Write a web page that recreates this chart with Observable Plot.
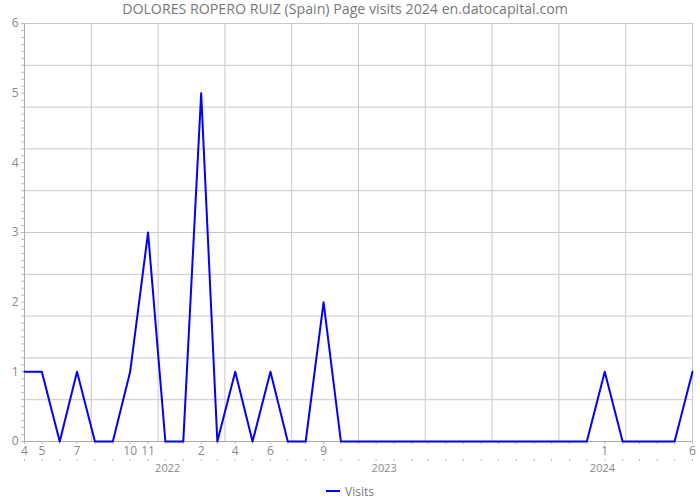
<!DOCTYPE html>
<html><head><meta charset="utf-8">
<script src="https://cdn.jsdelivr.net/npm/d3@7"></script>
<script src="https://cdn.jsdelivr.net/npm/@observablehq/plot@0.6"></script>
<style>
body{margin:0;background:#fff;font-family:"Open Sans",sans-serif;}
#title{height:14px;line-height:14px;padding-top:2px;padding-right:10px;overflow:visible;text-align:center;font-size:14.2px;color:#777;white-space:nowrap;}
#chart{height:466px;}
#chart svg{overflow:visible;}
#legend{height:18px;display:flex;justify-content:center;align-items:center;font-size:12px;color:#777;}
#legend .sw{display:inline-block;width:14px;height:2px;background:#0000ff;margin-right:5px;}
</style></head><body>
<div id="title">DOLORES ROPERO RUIZ (Spain) Page visits 2024 en.datocapital.com</div>
<div id="chart"></div>
<div id="legend"><span class="sw"></span>Visits</div>
<script>
const months = [
  "2021-04","2021-05","2021-06","2021-07","2021-08","2021-09","2021-10","2021-11","2021-12",
  "2022-01","2022-02","2022-03","2022-04","2022-05","2022-06","2022-07","2022-08","2022-09","2022-10","2022-11","2022-12",
  "2023-01","2023-02","2023-03","2023-04","2023-05","2023-06","2023-07","2023-08","2023-09","2023-10","2023-11","2023-12",
  "2024-01","2024-02","2024-03","2024-04","2024-05","2024-06"
];
const visits = [
  1,1,0,1,0,0,1,3,0,
  0,5,0,1,0,1,0,0,2,0,0,0,
  0,0,0,0,0,0,0,0,0,0,0,0,
  1,0,0,0,0,1
];
const monthTickLabels = ["2021-04","2021-05","2021-07","2021-10","2021-11","2022-02","2022-04","2022-06","2022-09","2024-01","2024-06"];
const yearLabels = ["2022","2023","2024"];
const yearLabelAt = ["2021-12-05","2022-12-15","2023-12-28"];
const yTicks = [0,1,2,3,4,5,6];

const toDate = s => new Date((s.length === 7 ? s + "-01" : s) + "T00:00:00Z");
const data = months.map((m, i) => ({date: toDate(m), v: visits[i]}));
const allMonths = data.map(d => d.date);
const x0 = allMonths[0], x1 = allMonths[allMonths.length - 1];
const xGrid = d3.range(11).map(i => new Date(+x0 + i * (x1 - x0) / 10));
const yGrid = d3.range(11).map(i => i * 0.6);
const yMinor = d3.range(61).map(i => i / 10);
const monthLabelData = monthTickLabels.map(s => ({date: toDate(s), label: String(toDate(s).getUTCMonth() + 1)}));
const yearData = yearLabels.map((l, i) => ({date: toDate(yearLabelAt[i]), label: l}));

const chart = Plot.plot({
  width: 700, height: 466,
  marginLeft: 24, marginRight: 8, marginTop: 7, marginBottom: 41,
  style: {fontFamily: "'Open Sans', sans-serif", fontSize: "12px", color: "#888", background: "white", overflow: "visible"},
  x: {type: "utc", domain: [x0, x1], axis: null},
  y: {domain: [0, 6], axis: null},
  marks: [
    Plot.ruleY(yGrid, {stroke: "#c8c8c8", strokeWidth: 1}),
    Plot.ruleX(xGrid, {stroke: "#c8c8c8", strokeWidth: 1}),
    Plot.axisY({ticks: yMinor, tickSize: 3, tickFormat: () => "", label: null, stroke: "#bbb", strokeOpacity: 1}),
    Plot.axisX({ticks: allMonths, tickSize: 3, tickFormat: () => "", label: null, stroke: "#bbb", strokeOpacity: 1}),
    Plot.axisX({ticks: allMonths, tickSize: 2, tickFormat: () => "", label: null, stroke: "#bbb", strokeOpacity: 1, dy: 18}),
    Plot.ruleY([0], {stroke: "#aaa"}),
    Plot.ruleX([x0], {stroke: "#aaa"}),
    Plot.text(yTicks, {y: d => d, frameAnchor: "left", dx: -6, textAnchor: "end", text: d => String(d), fill: "#888", fontSize: 12}),
    Plot.text(monthLabelData, {x: "date", frameAnchor: "bottom", dy: 10, lineAnchor: "middle", text: "label", fill: "#888", fontSize: 12}),
    Plot.text(yearData, {x: "date", frameAnchor: "bottom", dy: 27, lineAnchor: "middle", text: "label", fill: "#888", fontSize: 11}),
    Plot.line(data, {x: "date", y: "v", stroke: "#0000ff", strokeWidth: 2})
  ]
});
document.getElementById("chart").appendChild(chart);
</script>
</body></html>
